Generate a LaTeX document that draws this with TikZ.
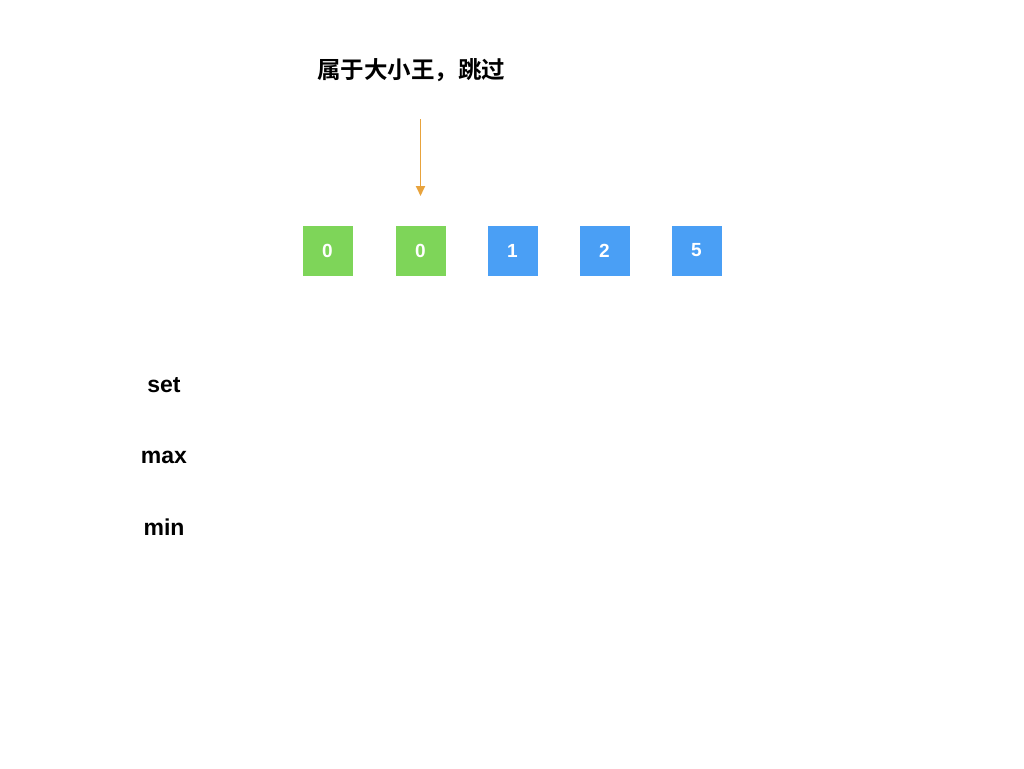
\documentclass[tikz,border=0pt]{standalone}
\usepackage{fontspec}
\setmainfont{Liberation Sans}
\newfontfamily\cjk{Noto Sans CJK SC}[BoldFont={* Bold}]
\usetikzlibrary{arrows.meta}
\definecolor{gbox}{HTML}{7ED559}
\definecolor{bbox}{HTML}{4A9FF5}
\definecolor{arr}{HTML}{E8A33D}
\tikzset{
  cell/.style={minimum width=50pt,minimum height=50pt,inner sep=0pt,text=white,font=\fontsize{19}{22}\selectfont\bfseries},
  gcell/.style={cell,fill=gbox},
  bcell/.style={cell,fill=bbox},
  lbl/.style={font=\fontsize{23}{27}\selectfont\bfseries,inner sep=0pt},
}
\begin{document}
\begin{tikzpicture}[x=1pt,y=-1pt]
\useasboundingbox (0,0) rectangle (1024,768);
\node[gcell] (c1) at (327.5,250.5) {0};
\node[gcell] (c2) at (420.5,250.5) {0};
\node[bcell] (c3) at (512.5,250.5) {1};
\node[bcell] (c4) at (604.5,250.5) {2};
\node[bcell] (c5) at (696.5,250.5) {5};
\node[font=\cjk\bfseries\fontsize{23.5}{28}\selectfont,inner sep=0pt] (t) at (411,70) {属于大小王，跳过};
\coordinate (a) at (420.5,119);
\draw[arr,line width=1.8pt,-{Triangle[length=10pt,width=9pt]}] (a) -- (c2.north |- 0,196);
\node[lbl] (s) at (164,385) {set};
\node[lbl] (mx) at (164,457) {max};
\node[lbl] (mn) at (164,527) {min};
\end{tikzpicture}
\end{document}
